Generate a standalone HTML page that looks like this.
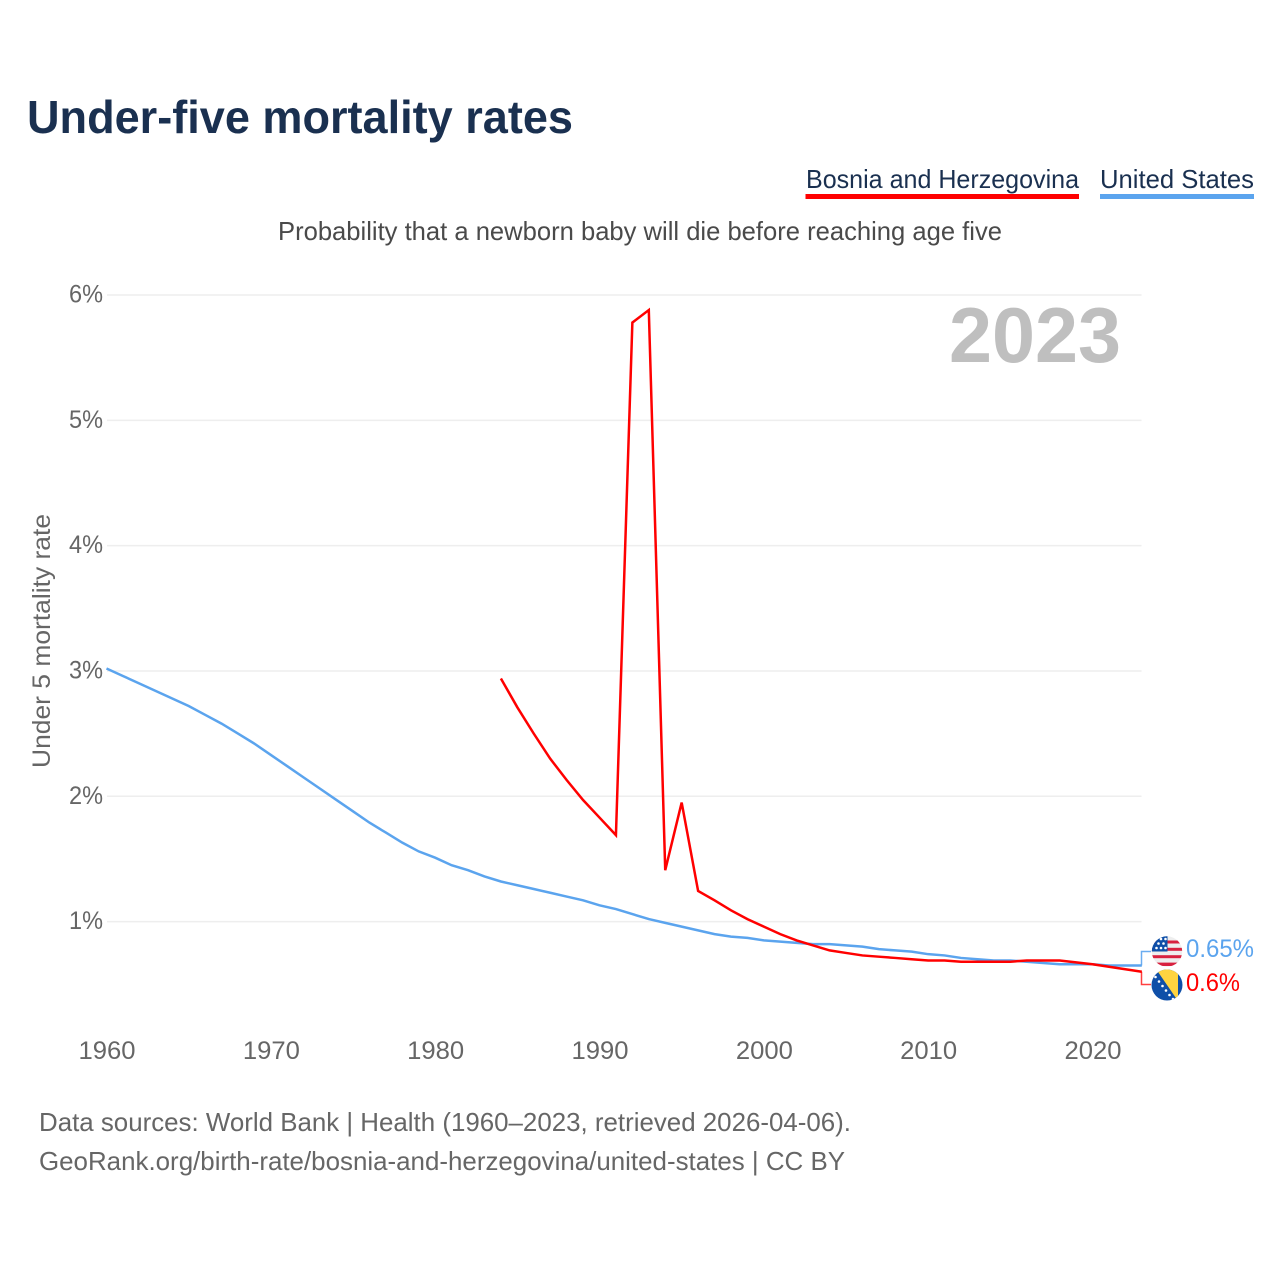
<!DOCTYPE html>
<html lang="en">
<head>
<meta charset="utf-8">
<title>Under-five mortality rates</title>
<style>
html,body{margin:0;padding:0;background:#fff;}
svg{display:block;font-family:"Liberation Sans",sans-serif;}
</style>
</head>
<body>
<svg id="chart" xmlns="http://www.w3.org/2000/svg" width="1280" height="1280" viewBox="0 0 1280 1280">
  <defs>
    <clipPath id="clip-us"><circle cx="1167" cy="951.5" r="15.2"/></clipPath>
    <clipPath id="clip-ba"><circle cx="1167" cy="985" r="15.5"/></clipPath>
  </defs>
  <rect width="1280" height="1280" fill="#ffffff"/>
  <text x="27" y="133" font-size="46" font-weight="700" fill="#1a3050" textLength="546" lengthAdjust="spacingAndGlyphs">Under-five mortality rates</text>

  <g>
    <text x="806" y="188" font-size="26" fill="#1a3050" textLength="273" lengthAdjust="spacingAndGlyphs">Bosnia and Herzegovina</text>
    <rect x="805.5" y="194" width="273.5" height="5" fill="#ff0000"/>
  </g>
  <g>
    <text x="1100" y="188" font-size="26" fill="#1a3050" textLength="154" lengthAdjust="spacingAndGlyphs">United States</text>
    <rect x="1100" y="194" width="154" height="5" fill="#5ba4ee"/>
  </g>

  <text x="278" y="240" font-size="26" fill="#4a4a4a" textLength="724" lengthAdjust="spacingAndGlyphs">Probability that a newborn baby will die before reaching age five</text>

  <g id="grid"></g>
  <g id="y-axis"></g>
  <g id="x-axis"></g>

  <text x="0" y="0" transform="translate(50,641) rotate(-90)" text-anchor="middle" font-size="25" fill="#666666" textLength="254" lengthAdjust="spacingAndGlyphs">Under 5 mortality rate</text>
  <text x="949" y="362" font-size="78" font-weight="700" fill="#bfbfbf" textLength="172" lengthAdjust="spacingAndGlyphs">2023</text>

  <g id="series"></g>

  <g id="end-labels"></g>

  <g clip-path="url(#clip-us)">
    <rect x="1151" y="935" width="32" height="33" fill="#eeeeee"/>
    <rect x="1151" y="940.5" width="32" height="3" fill="#d8213f"/>
    <rect x="1151" y="947.8" width="32" height="3" fill="#d8213f"/>
    <rect x="1151" y="955.2" width="32" height="3" fill="#d8213f"/>
    <rect x="1151" y="962.6" width="32" height="3.4" fill="#d8213f"/>
    <rect x="1151" y="935" width="16.5" height="16.5" fill="#0f4fa8"/>
    <circle cx="1156.5" cy="948" r="1.3" fill="#fff"/><circle cx="1161" cy="948" r="1.3" fill="#fff"/><circle cx="1165.5" cy="948" r="1.3" fill="#fff"/>
    <circle cx="1158.5" cy="943.5" r="1.3" fill="#fff"/><circle cx="1163.5" cy="943.5" r="1.3" fill="#fff"/>
    <circle cx="1161" cy="939" r="1.3" fill="#fff"/><circle cx="1165.5" cy="939" r="1.3" fill="#fff"/>
  </g>
  <g clip-path="url(#clip-ba)">
    <rect x="1151" y="969" width="32" height="32" fill="#0f4fa8"/>
    <polygon points="1156,969 1178,969 1178,1001" fill="#ffd440"/>
    <circle cx="1155.5" cy="977" r="1.3" fill="#fff"/><circle cx="1159" cy="981.5" r="1.3" fill="#fff"/>
    <circle cx="1162.5" cy="986" r="1.3" fill="#fff"/><circle cx="1166" cy="990.5" r="1.3" fill="#fff"/>
    <circle cx="1169.5" cy="995" r="1.3" fill="#fff"/><circle cx="1173" cy="999" r="1.3" fill="#fff"/>
  </g>

  <text x="39" y="1131" font-size="26" fill="#666666" textLength="812" lengthAdjust="spacingAndGlyphs">Data sources: World Bank | Health (1960–2023, retrieved 2026-04-06).</text>
  <text x="39" y="1170" font-size="26" fill="#666666" textLength="806" lengthAdjust="spacingAndGlyphs">GeoRank.org/birth-rate/bosnia-and-herzegovina/united-states | CC BY</text>
</svg>
<script>
const yTickValues = [1, 2, 3, 4, 5, 6];
const xTickYears = [1960, 1970, 1980, 1990, 2000, 2010, 2020];
const usStartYear = 1960;
const usValues = [
  3.02, 2.96, 2.90, 2.84, 2.78, 2.72, 2.65, 2.58, 2.50, 2.42,
  2.33, 2.24, 2.15, 2.06, 1.97, 1.88, 1.79, 1.71, 1.63, 1.56,
  1.51, 1.45, 1.41, 1.36, 1.32, 1.29, 1.26, 1.23, 1.20, 1.17,
  1.13, 1.10, 1.06, 1.02, 0.99, 0.96, 0.93, 0.90, 0.88, 0.87,
  0.85, 0.84, 0.83, 0.82, 0.82, 0.81, 0.80, 0.78, 0.77, 0.76,
  0.74, 0.73, 0.71, 0.70, 0.69, 0.69, 0.68, 0.67, 0.66, 0.66,
  0.66, 0.65, 0.65, 0.65
];
const baStartYear = 1984;
const baValues = [
  2.94, 2.71, 2.50, 2.30, 2.13, 1.97, 1.83, 1.69, 5.78, 5.88,
  1.41, 1.95, 1.245, 1.17, 1.09, 1.02, 0.96, 0.90, 0.85, 0.81,
  0.77, 0.75, 0.73, 0.72, 0.71, 0.70, 0.69, 0.69, 0.68, 0.68,
  0.68, 0.68, 0.69, 0.69, 0.69, 0.675, 0.66, 0.64, 0.62, 0.60
];
const usLabel = "0.65%";
const baLabel = "0.6%";

const SVGNS = "http://www.w3.org/2000/svg";
const xScale = function (year) { return 106.5 + (year - 1960) * (1092.5 - 106.5) / 60; };
const yScale = function (value) { return 921.6 - (value - 1) * 125.32; };

function mk(tag, attrs, parent) {
  const node = document.createElementNS(SVGNS, tag);
  Object.keys(attrs).forEach(function (k) { node.setAttribute(k, attrs[k]); });
  parent.appendChild(node);
  return node;
}

const gridGroup = document.getElementById("grid");
const yAxisGroup = document.getElementById("y-axis");
const xAxisGroup = document.getElementById("x-axis");
const seriesGroup = document.getElementById("series");
const endGroup = document.getElementById("end-labels");

yTickValues.forEach(function (v) {
  const line = mk("line", { x1: 107, x2: 1141.5, y1: yScale(v), y2: yScale(v), stroke: "#eeeeee", "stroke-width": 1.5 }, gridGroup);
  
  
  const label = mk("text", { x: 103, y: yScale(v) + 7.5, "text-anchor": "end", "font-size": 25, fill: "#666666", textLength: 34, lengthAdjust: "spacingAndGlyphs" }, yAxisGroup);
  
  
  label.textContent = v + "%";
});

xTickYears.forEach(function (year) {
  const label = mk("text", { x: xScale(year) + 0.5, y: 1059, "text-anchor": "middle", "font-size": 25, fill: "#666666", textLength: 57, lengthAdjust: "spacingAndGlyphs" }, xAxisGroup);
  
  
  label.textContent = year;
});

function linePoints(startYear, values) {
  return values.map(function (v, i) { return xScale(startYear + i).toFixed(2) + "," + yScale(v).toFixed(2); }).join(" ");
}

const usLine = mk("polyline", { points: linePoints(usStartYear, usValues), fill: "none", stroke: "#5ba4ee", "stroke-width": 2.5, "stroke-linejoin": "miter" }, seriesGroup);



const baLine = mk("polyline", { points: linePoints(baStartYear, baValues), fill: "none", stroke: "#ff0000", "stroke-width": 2.5, "stroke-linejoin": "miter" }, seriesGroup);



const usEndY = yScale(usValues[usValues.length - 1]);
const baEndY = yScale(baValues[baValues.length - 1]);

const usConnector = mk("polyline", { points: "1141.5," + usEndY + " 1141.5,951.5 1151,951.5", fill: "none", stroke: "#5ba4ee", "stroke-width": 1.5, opacity: 0.9 }, endGroup);



const baConnector = mk("polyline", { points: "1141.5," + baEndY + " 1141.5,984.5 1151,984.5", fill: "none", stroke: "#ff0000", "stroke-width": 1.5, opacity: 0.75 }, endGroup);



const usValueLabel = mk("text", { x: 1186, y: 957, "font-size": 25, fill: "#5ba4ee", textLength: 68, lengthAdjust: "spacingAndGlyphs" }, endGroup);


usValueLabel.textContent = usLabel;

const baValueLabel = mk("text", { x: 1186, y: 991, "font-size": 25, fill: "#ff0000", textLength: 54, lengthAdjust: "spacingAndGlyphs" }, endGroup);


baValueLabel.textContent = baLabel;
</script>
</body>
</html>
